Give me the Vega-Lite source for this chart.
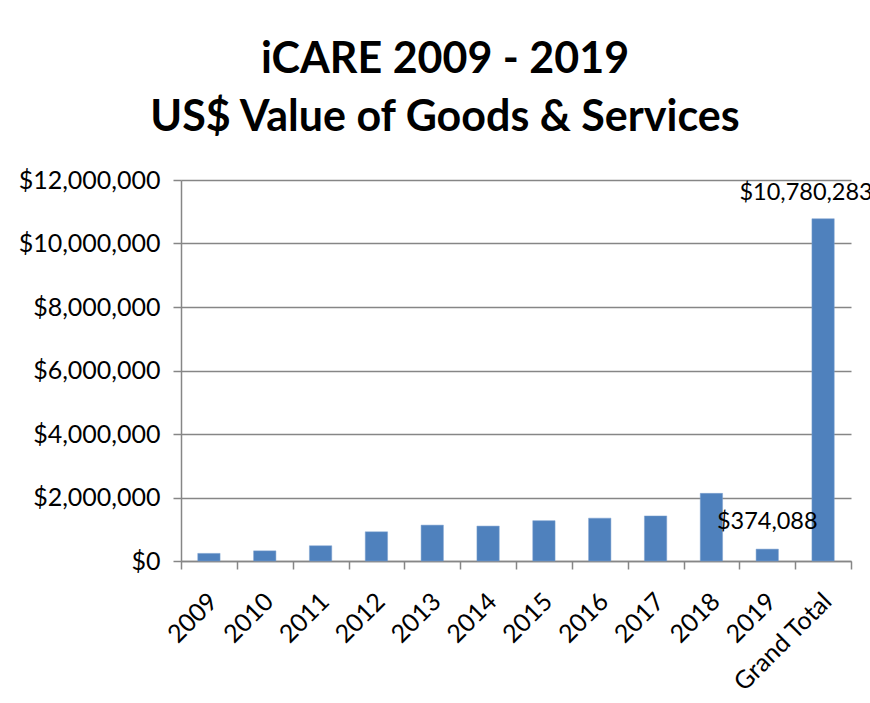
{
  "$schema": "https://vega.github.io/schema/vega-lite/v6.json",
  "autosize": "none",
  "width": 670,
  "height": 381,
  "padding": {"left": 181, "top": 180, "right": 19, "bottom": 142},
  "background": "white",
  "title": {
    "text": ["iCARE 2009 - 2019", "US$ Value of Goods & Services"],
    "font": "Lato",
    "fontSize": 43,
    "fontWeight": "bold",
    "color": "#000000",
    "lineHeight": 58,
    "anchor": "middle",
    "frame": "group",
    "dx": -71,
    "offset": 28
  },
  "data": {
    "values": [
      {"year": "2009", "value": 240000},
      {"year": "2010", "value": 320000},
      {"year": "2011", "value": 480000},
      {"year": "2012", "value": 920000},
      {"year": "2013", "value": 1130000},
      {"year": "2014", "value": 1100000},
      {"year": "2015", "value": 1270000},
      {"year": "2016", "value": 1350000},
      {"year": "2017", "value": 1420000},
      {"year": "2018", "value": 2130000},
      {"year": "2019", "value": 374088},
      {"year": "Grand Total", "value": 10780283}
    ]
  },
  "encoding": {
    "x": {
      "field": "year",
      "type": "nominal",
      "sort": null,
      "title": null,
      "scale": {"paddingInner": 0, "paddingOuter": 0},
      "axis": {
        "labelAngle": -45,
        "labelAlign": "right",
        "labelBaseline": "middle",
        "labelPadding": 28,
        "labelOffset": 4,
        "tickBand": "extent",
        "grid": false
      }
    },
    "y": {
      "field": "value",
      "type": "quantitative",
      "title": null,
      "scale": {"domain": [0, 12000000], "nice": false},
      "axis": {
        "values": [0, 2000000, 4000000, 6000000, 8000000, 10000000, 12000000],
        "format": "$,.0f",
        "labelPadding": 13,
        "grid": true
      }
    }
  },
  "layer": [
    {
      "mark": {"type": "bar", "width": {"band": 0.4}, "color": "#4F81BD", "stroke": "#7FA3D1", "strokeWidth": 0.5}
    },
    {
      "transform": [{"filter": "datum.year === '2019'"}],
      "mark": {"type": "text", "font": "Lato", "fontSize": 23.5, "color": "#000000", "baseline": "middle", "dy": -27},
      "encoding": {"text": {"field": "value", "type": "quantitative", "format": "$,.0f"}}
    },
    {
      "transform": [{"filter": "datum.year === 'Grand Total'"}],
      "mark": {"type": "text", "font": "Lato", "fontSize": 23.5, "color": "#000000", "baseline": "middle", "dy": -26, "dx": -17},
      "encoding": {"text": {"field": "value", "type": "quantitative", "format": "$,.0f"}}
    }
  ],
  "config": {
    "view": {"stroke": null},
    "axis": {
      "labelFont": "Lato",
      "labelFontSize": 25,
      "labelColor": "#000000",
      "domainColor": "#868686",
      "domainWidth": 1.5,
      "tickColor": "#868686",
      "tickWidth": 1.5,
      "tickSize": 8,
      "gridColor": "#868686",
      "gridWidth": 1.5
    }
  }
}
